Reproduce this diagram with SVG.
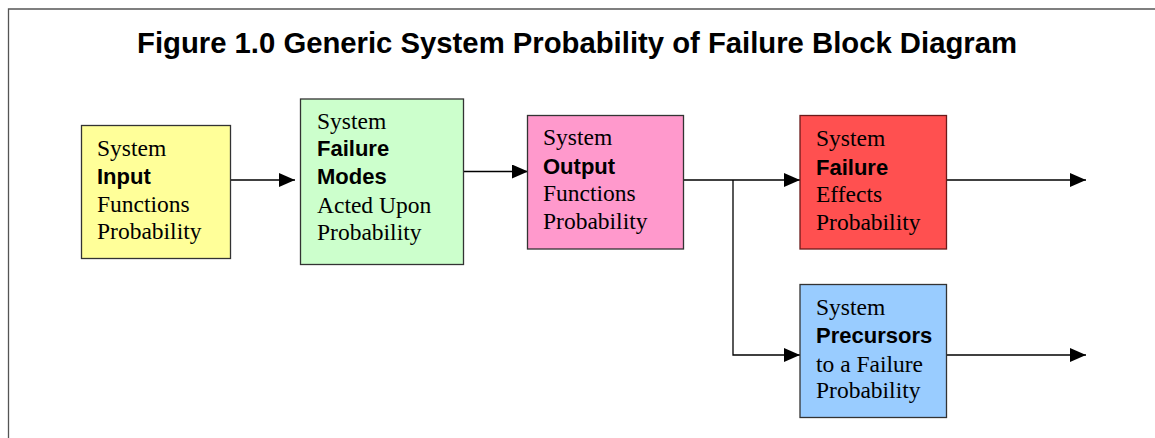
<svg xmlns="http://www.w3.org/2000/svg" width="1155" height="438" viewBox="0 0 1155 438">
<style>
.box{stroke:#333;stroke-width:1.3}
.t{font-family:"Liberation Serif","Times New Roman",serif;font-size:23.5px;fill:#000}
.b{font-family:"Liberation Sans",Arial,sans-serif;font-size:22px;font-weight:bold;fill:#000}
.title{font-family:"Liberation Sans",Arial,sans-serif;font-size:29px;font-weight:bold;fill:#000}
.c{stroke:#000;stroke-width:1.3;fill:none}
</style>
<defs>
<marker id="ah" markerWidth="16" markerHeight="14" refX="16" refY="7" orient="auto" markerUnits="userSpaceOnUse">
<path d="M0,0 L16,7 L0,14 Z" fill="#000"/>
</marker>
</defs>
<rect x="0" y="0" width="1155" height="438" fill="#fff"/>
<path d="M8.5,438 V9 H1155" fill="none" stroke="#555" stroke-width="1.3"/>
<text class="title" x="137" y="53" textLength="880" lengthAdjust="spacingAndGlyphs">Figure 1.0 Generic System Probability of Failure Block Diagram</text>
<g id="connectors">
<line class="c" x1="231" y1="180" x2="295" y2="180" marker-end="url(#ah)"/>
<line class="c" x1="463" y1="171.5" x2="528" y2="171.5" marker-end="url(#ah)"/>
<line class="c" x1="683" y1="180" x2="800" y2="180" marker-end="url(#ah)"/>
<polyline class="c" points="733,180 733,355 800,355" marker-end="url(#ah)"/>
<line class="c" x1="947" y1="180" x2="1086" y2="180" marker-end="url(#ah)"/>
<line class="c" x1="947" y1="355" x2="1086" y2="355" marker-end="url(#ah)"/>
</g>
<g id="input">
<rect class="box" x="81.5" y="125.5" width="149" height="133" fill="#FFFF99"/>
<text class="t" x="97" y="156">System</text>
<text class="b" x="97" y="183.5">Input</text>
<text class="t" x="97" y="211.5">Functions</text>
<text class="t" x="97" y="238.5">Probability</text>
</g>
<g id="modes">
<rect class="box" x="300.5" y="99" width="163" height="165.5" fill="#CCFFCC"/>
<text class="t" x="317" y="128.5">System</text>
<text class="b" x="317" y="156">Failure</text>
<text class="b" x="317" y="184">Modes</text>
<text class="t" x="317" y="212.5">Acted Upon</text>
<text class="t" x="317" y="240">Probability</text>
</g>
<g id="output">
<rect class="box" x="527.5" y="115.5" width="156" height="133.5" fill="#FF99CC"/>
<text class="t" x="543" y="145">System</text>
<text class="b" x="543" y="174">Output</text>
<text class="t" x="543" y="201">Functions</text>
<text class="t" x="543" y="229">Probability</text>
</g>
<g id="effects">
<rect x="800" y="115.5" width="146.5" height="133.5" fill="#FF5050" stroke="#6B1A1A" stroke-width="1.3"/>
<text class="t" x="816" y="146">System</text>
<text class="b" x="816" y="175">Failure</text>
<text class="t" x="816" y="202">Effects</text>
<text class="t" x="816" y="230">Probability</text>
</g>
<g id="precursors">
<rect class="box" x="800" y="284.5" width="146.5" height="133" fill="#99CCFF" stroke="#334"/>
<text class="t" x="816" y="315">System</text>
<text class="b" x="816" y="343">Precursors</text>
<text class="t" x="816" y="371.5">to a Failure</text>
<text class="t" x="816" y="398">Probability</text>
</g>
</svg>
